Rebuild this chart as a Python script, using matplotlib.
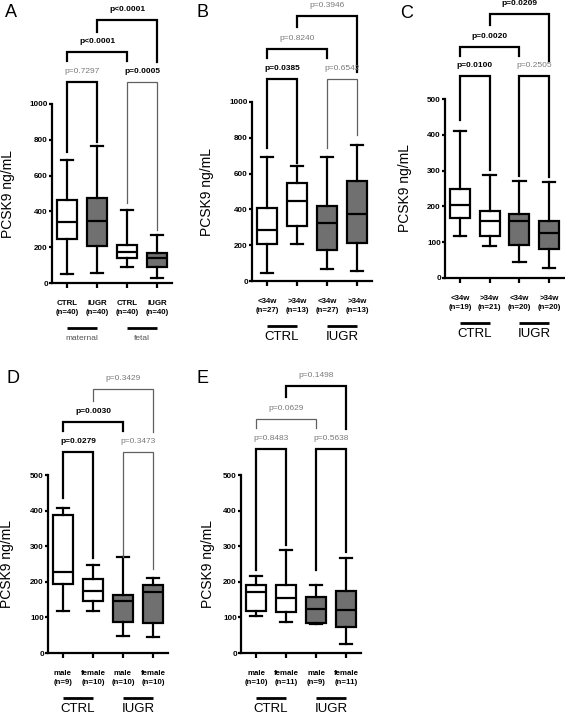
import matplotlib
matplotlib.use("Agg")
import matplotlib.pyplot as plt

plt.rcParams['font.family'] = ['Liberation Sans', 'DejaVu Sans']

W, H, DPI = 565, 715, 100

# ---------------- data ----------------
A_labels = ["CTRL\n(n=40)", "IUGR\n(n=40)", "CTRL\n(n=40)", "IUGR\n(n=40)"]
A_groups = ["maternal", "fetal"]
A_whislo = [50, 55, 92, 27]
A_q1 = [245, 205, 140, 88]
A_med = [340, 345, 172, 138]
A_q3 = [465, 475, 213, 170]
A_whishi = [688, 765, 410, 268]
A_pvals = ["p=0.7297", "p=0.0005", "p<0.0001", "p<0.0001"]
A_bold = [False, True, True, True]
A_dark = [True, False, True, True]
A_tops = [1123, 1123, 1291, 1470]
A_ends = [(732, 788), (447, 296), (1240, 1240), (1402, 1235)]

B_labels = ["<34w\n(n=27)", ">34w\n(n=13)", "<34w\n(n=27)", ">34w\n(n=13)"]
B_groups = ["CTRL", "IUGR"]
B_whislo = [46, 205, 68, 58]
B_q1 = [205, 305, 175, 210]
B_med = [285, 445, 325, 375]
B_q3 = [410, 545, 420, 560]
B_whishi = [690, 645, 695, 760]
B_pvals = ["p=0.0385", "p=0.6542", "p=0.8240", "p=0.3946"]
B_bold = [True, False, False, False]
B_dark = [True, False, True, True]
B_tops = [1129, 1129, 1296, 1480]
B_ends = [(743, 659), (743, 816), (1246, 1246), (1419, 1170)]

C_labels = ["<34w\n(n=19)", ">34w\n(n=21)", "<34w\n(n=20)", ">34w\n(n=20)"]
C_groups = ["CTRL", "IUGR"]
C_whislo = [117, 90, 45, 27]
C_q1 = [168, 118, 93, 82]
C_med = [203, 160, 160, 125]
C_q3 = [248, 188, 180, 160]
C_whishi = [410, 288, 270, 267]
C_pvals = ["p=0.0100", "p=0.2505", "p=0.0020", "p=0.0209"]
C_bold = [True, False, True, True]
C_dark = [True, True, True, True]
C_tops = [564, 564, 645, 738]
C_ends = [(441, 302), (285, 283), (620, 620), (707, 605)]

D_labels = ["male\n(n=9)", "female\n(n=10)", "male\n(n=10)", "female\n(n=10)"]
D_groups = ["CTRL", "IUGR"]
D_whislo = [117, 118, 48, 46]
D_q1 = [195, 145, 88, 83]
D_med = [228, 175, 145, 170]
D_q3 = [388, 208, 163, 190]
D_whishi = [408, 248, 270, 210]
D_pvals = ["p=0.0279", "p=0.3473", "p=0.0030", "p=0.3429"]
D_bold = [True, False, True, False]
D_dark = [True, False, True, False]
D_tops = [565, 565, 649, 742]
D_ends = [(435, 267), (270, 235), (624, 624), (708, 621)]

E_labels = ["male\n(n=10)", "female\n(n=11)", "male\n(n=9)", "female\n(n=11)"]
E_groups = ["CTRL", "IUGR"]
E_whislo = [105, 88, 82, 25]
E_q1 = [118, 115, 85, 73]
E_med = [172, 155, 123, 120]
E_q3 = [190, 190, 158, 173]
E_whishi = [215, 288, 192, 267]
E_pvals = ["p=0.8483", "p=0.5638", "p=0.0629", "p=0.1498"]
E_bold = [False, False, False, False]
E_dark = [True, True, False, True]
E_tops = [573, 573, 657, 750]
E_ends = [(233, 303), (233, 285), (632, 632), (719, 629)]

pairs = [(1, 2), (3, 4), (1, 3), (2, 4)]
GRAYFILL = "#707070"
fills_A = ["white", GRAYFILL, "white", GRAYFILL]
fills_other = ["white", "white", GRAYFILL, GRAYFILL]

# ---------------- drawing ----------------
fig = plt.figure(figsize=(W / DPI, H / DPI), dpi=DPI)
fig.patch.set_facecolor("white")

LW = 1.6
GRAY_TXT = "#7a7a7a"
GRAY_LN = "#606060"


def panel(letter, left, right, y0, yref_px, yref, top_px, step,
          labels, groups, wlo, q1, med, q3, whi, pvals, bold, dark, tops, ends,
          fills, letter_xy, ylab_x, small_groups=False):
    ax = fig.add_axes([left / W, 1 - y0 / H, (right - left) / W, (y0 - top_px) / H])
    scale = yref / (y0 - yref_px)      # data units per pixel
    ah = y0 - top_px                   # axes height in px
    ax.set_ylim(0, ah * scale)
    ax.set_xlim(0.5, 4.5)

    stats = [dict(med=m, q1=a, q3=b, whislo=lo, whishi=hi, fliers=[])
             for lo, a, m, b, hi in zip(wlo, q1, med, q3, whi)]
    bp = ax.bxp(stats, positions=[1, 2, 3, 4], widths=0.67, capwidths=0.42,
                patch_artist=True, showfliers=False,
                boxprops=dict(linewidth=LW, edgecolor="black"),
                whiskerprops=dict(linewidth=LW, color="black"),
                capprops=dict(linewidth=LW, color="black"),
                medianprops=dict(linewidth=LW, color="black"))
    for patch, fc in zip(bp["boxes"], fills):
        patch.set_facecolor(fc)

    for s in ["top", "right"]:
        ax.spines[s].set_visible(False)
    for s in ["left", "bottom"]:
        ax.spines[s].set_linewidth(LW)
    ax.spines["left"].set_bounds(0, yref)

    ax.set_yticks(list(range(0, yref + 1, step)))
    ax.set_yticklabels([str(v) for v in range(0, yref + 1, step)],
                       fontsize=5.8, fontweight="bold")
    ax.tick_params(axis="y", length=2.5, width=LW, pad=0.5)
    ax.set_xticks([1, 2, 3, 4])
    ax.set_xticklabels(labels, fontsize=5.7, fontweight="bold", linespacing=1.25)
    ax.tick_params(axis="x", length=3.5, width=LW, pad=9)

    # brackets
    for (i, j), p, b, d, t, (el, er) in zip(pairs, pvals, bold, dark, tops, ends):
        col = "black" if d else GRAY_LN
        lw = 1.6 if d else 0.9
        ax.plot([i, i, j, j], [el, t, t, er], color=col, lw=lw,
                solid_joinstyle="miter", clip_on=False)
        ax.text((i + j) / 2, t + 10.5 * scale, p, ha="center", va="center",
                fontsize=6.0, fontweight="bold" if b else "normal",
                color="black" if b else GRAY_TXT)

    # group lines
    tr = ax.get_xaxis_transform()
    yl = -45 / ah
    yt = (-55 if small_groups else -56) / ah
    for k, g in enumerate(groups):
        x1, x2 = 1 + 2 * k, 2 + 2 * k
        ax.plot([x1, x2], [yl, yl], transform=tr, color="black", lw=2.0,
                clip_on=False, solid_capstyle="butt")
        if small_groups:
            ax.text((x1 + x2) / 2, yt, g, transform=tr, ha="center", va="center",
                    fontsize=6.0, color="#555555")
        else:
            ax.text((x1 + x2) / 2, yt, g, transform=tr, ha="center", va="center",
                    fontsize=9.5, color="black")

    # y label
    fig.text(ylab_x / W, 1 - (y0 + yref_px) / 2 / H, "PCSK9 ng/mL", rotation=90,
             ha="center", va="center", fontsize=10)
    # panel letter
    fig.text(letter_xy[0] / W, 1 - letter_xy[1] / H, letter, ha="left", va="top",
             fontsize=13)
    return ax


panel("A", 52, 172, 283, 104, 1000, 0, 200, A_labels, A_groups,
      A_whislo, A_q1, A_med, A_q3, A_whishi, A_pvals, A_bold, A_dark, A_tops, A_ends,
      fills_A, (5, 4), 8, small_groups=True)
panel("B", 252, 372, 281, 102, 1000, 0, 200, B_labels, B_groups,
      B_whislo, B_q1, B_med, B_q3, B_whishi, B_pvals, B_bold, B_dark, B_tops, B_ends,
      fills_other, (197, 4), 207)
panel("C", 445, 564, 278, 99, 500, 0, 100, C_labels, C_groups,
      C_whislo, C_q1, C_med, C_q3, C_whishi, C_pvals, C_bold, C_dark, C_tops, C_ends,
      fills_other, (400, 5), 405)
panel("D", 48, 168, 653, 475, 500, 372, 100, D_labels, D_groups,
      D_whislo, D_q1, D_med, D_q3, D_whishi, D_pvals, D_bold, D_dark, D_tops, D_ends,
      fills_other, (7, 370), 7)
panel("E", 241, 361, 653, 475, 500, 372, 100, E_labels, E_groups,
      E_whislo, E_q1, E_med, E_q3, E_whishi, E_pvals, E_bold, E_dark, E_tops, E_ends,
      fills_other, (197, 370), 208)

fig.savefig("out.png", dpi=DPI)
